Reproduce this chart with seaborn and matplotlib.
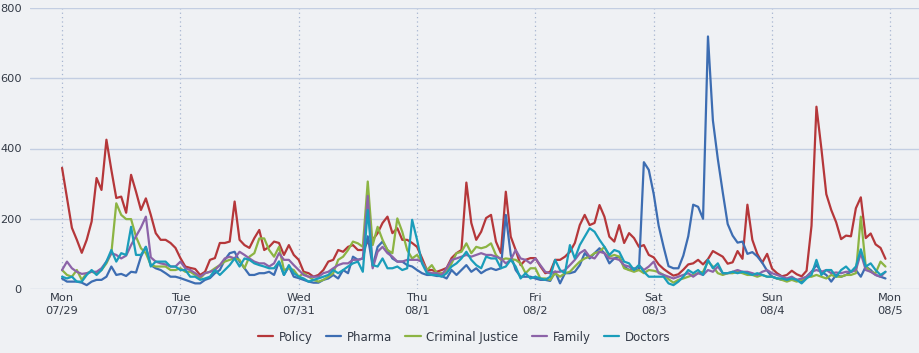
import matplotlib
matplotlib.use("Agg")
import matplotlib.pyplot as plt
import pandas as pd
import seaborn as sns

# 일자 눈금 라벨 (매일 0시)
day_labels = ["Mon\n07/29", "Tue\n07/30", "Wed\n07/31", "Thu\n08/1",
              "Fri\n08/2", "Sat\n08/3", "Sun\n08/4", "Mon\n08/5"]
topics = ["Policy", "Pharma", "Criminal Justice", "Family", "Doctors"]

# 시간별 값 (월 0시 ~ 일 23시, 168개)
policy = [
    345, 260, 174, 140, 103, 140, 192, 316, 282, 425, 339, 259, 263, 217, 325, 277, 225, 258, 211, 159, 140, 140, 131, 117,
    88, 64, 60, 57, 40, 49, 83, 88, 131, 131, 135, 249, 140, 125, 117, 145, 168, 111, 120, 135, 131, 97, 125, 97,
    83, 49, 45, 35, 40, 54, 78, 83, 111, 106, 120, 125, 111, 111, 135, 140, 159, 188, 206, 159, 173, 140, 140, 131,
    120, 88, 54, 54, 49, 54, 60, 88, 102, 111, 303, 188, 140, 163, 202, 211, 135, 102, 277, 149, 111, 68, 83, 88,
    88, 65, 45, 49, 83, 83, 92, 106, 131, 182, 211, 182, 188, 239, 206, 149, 135, 182, 131, 159, 145, 120, 125, 97,
    90, 70, 57, 47, 38, 42, 55, 70, 73, 83, 70, 85, 108, 100, 92, 72, 76, 108, 86, 240, 140, 100, 75, 100,
    58, 45, 36, 40, 52, 42, 36, 52, 180, 519, 400, 270, 225, 190, 142, 152, 150, 230, 261, 145, 158, 127, 117, 86,
]
pharma = [
    30, 21, 21, 21, 18, 11, 21, 26, 26, 35, 64, 40, 43, 37, 49, 47, 92, 120, 68, 59, 54, 45, 35, 35,
    31, 26, 21, 16, 16, 26, 31, 45, 54, 83, 102, 106, 78, 59, 40, 40, 45, 45, 49, 40, 78, 40, 64, 35,
    31, 26, 21, 18, 18, 26, 30, 40, 30, 54, 45, 92, 83, 87, 150, 64, 120, 135, 111, 87, 78, 78, 68, 64,
    54, 45, 40, 40, 37, 37, 30, 54, 40, 54, 68, 49, 59, 45, 54, 59, 54, 59, 211, 97, 54, 35, 35, 35,
    30, 26, 26, 23, 50, 16, 45, 45, 49, 68, 102, 87, 102, 116, 102, 73, 87, 92, 64, 54, 59, 54, 361, 339,
    270, 180, 120, 65, 59, 59, 95, 150, 240, 234, 200, 719, 480, 370, 275, 185, 152, 132, 135, 100, 105, 93, 75, 52,
    35, 30, 26, 26, 30, 26, 21, 35, 49, 68, 49, 40, 21, 40, 35, 40, 49, 54, 35, 64, 54, 40, 35, 30,
]
criminal_justice = [
    54, 40, 35, 54, 26, 45, 49, 45, 54, 73, 102, 244, 211, 199, 199, 149, 116, 102, 68, 64, 64, 64, 54, 54,
    59, 49, 49, 40, 30, 45, 49, 59, 68, 78, 83, 87, 83, 59, 92, 102, 144, 144, 111, 92, 120, 54, 59, 54,
    35, 45, 35, 26, 21, 26, 35, 45, 83, 92, 111, 135, 130, 120, 306, 125, 177, 140, 111, 102, 201, 163, 111, 87,
    97, 78, 54, 68, 45, 45, 49, 73, 102, 106, 130, 102, 120, 116, 120, 130, 97, 83, 87, 85, 83, 73, 45, 59,
    59, 30, 30, 26, 45, 35, 45, 49, 64, 78, 87, 92, 102, 106, 120, 92, 97, 92, 59, 54, 49, 54, 45, 54,
    52, 48, 40, 28, 18, 26, 30, 35, 40, 45, 49, 78, 64, 45, 40, 45, 45, 49, 45, 40, 40, 35, 40, 35,
    35, 30, 26, 21, 26, 21, 26, 35, 35, 40, 35, 30, 40, 35, 35, 40, 40, 45, 206, 64, 49, 45, 78, 64,
]
family = [
    54, 78, 59, 49, 43, 45, 49, 49, 59, 78, 102, 97, 87, 95, 125, 150, 175, 206, 90, 78, 73, 70, 64, 64,
    78, 59, 54, 45, 35, 45, 49, 54, 68, 87, 92, 87, 106, 97, 87, 78, 73, 73, 64, 73, 102, 83, 83, 68,
    54, 40, 35, 35, 35, 45, 49, 59, 68, 73, 73, 83, 83, 87, 265, 59, 106, 120, 102, 92, 78, 78, 83, 83,
    83, 78, 49, 45, 45, 40, 59, 83, 87, 92, 97, 92, 97, 102, 97, 97, 92, 87, 73, 83, 111, 87, 83, 73,
    87, 68, 49, 45, 49, 49, 54, 68, 83, 102, 111, 92, 87, 106, 102, 87, 87, 83, 68, 64, 54, 68, 54, 64,
    78, 45, 40, 35, 30, 35, 40, 45, 35, 45, 40, 54, 49, 64, 45, 45, 49, 54, 49, 49, 45, 40, 49, 54,
    45, 40, 35, 30, 35, 26, 30, 35, 49, 54, 49, 54, 45, 47, 45, 49, 49, 54, 102, 54, 49, 40, 35, 49,
]
doctors = [
    35, 30, 35, 21, 21, 40, 54, 40, 54, 78, 111, 78, 102, 97, 177, 97, 97, 120, 64, 78, 78, 78, 64, 64,
    54, 54, 35, 35, 26, 30, 35, 54, 40, 54, 68, 87, 64, 87, 83, 73, 68, 64, 59, 59, 78, 40, 68, 45,
    35, 30, 21, 26, 30, 35, 40, 54, 45, 54, 64, 73, 78, 49, 225, 68, 64, 87, 59, 59, 64, 54, 59, 197,
    140, 73, 45, 40, 40, 35, 45, 64, 73, 87, 106, 83, 68, 59, 92, 87, 87, 59, 64, 83, 64, 30, 45, 30,
    35, 30, 26, 35, 83, 54, 45, 125, 87, 125, 149, 173, 163, 140, 120, 97, 111, 106, 78, 73, 54, 68, 49, 35,
    35, 35, 35, 16, 11, 21, 35, 54, 45, 54, 40, 83, 59, 73, 45, 45, 49, 45, 49, 45, 40, 45, 40, 35,
    35, 30, 30, 26, 30, 26, 16, 30, 40, 83, 40, 54, 54, 35, 54, 64, 49, 64, 113, 64, 73, 54, 40, 49,
]

colors = ["#b5373a", "#3d6db2", "#8cb443", "#8c63a8", "#1a9dba"]
bg = "#eff1f4"
text_color = "#333a46"

frames = []
for name, vals in zip(topics, [policy, pharma, criminal_justice, family, doctors]):
    frames.append(pd.DataFrame({"hour": range(len(vals)), "value": vals, "topic": name}))
df = pd.concat(frames, ignore_index=True)

sns.set_style("white")
plt.rcParams["font.family"] = ["DejaVu Sans"]

fig = plt.figure(figsize=(9.19, 3.53), dpi=100)
fig.patch.set_facecolor(bg)
ax = fig.add_axes([30 / 919, 1 - 289 / 353, 889 / 919, 281 / 353])
ax.set_facecolor(bg)

sns.lineplot(data=df, x="hour", y="value", hue="topic", hue_order=topics,
             palette=colors, linewidth=1.6, ax=ax)

ax.set_xlim(-6.5, 173.8)
ax.set_ylim(0, 800)
ax.set_xticks(range(0, 169, 24))
ax.set_xticklabels(day_labels, fontsize=8.2, color=text_color, linespacing=1.3)
ax.set_yticks([0, 200, 400, 600, 800])
ax.set_yticklabels(["0", "200", "400", "600", "800"], fontsize=8.2, color=text_color)
ax.tick_params(axis="both", length=0)
ax.tick_params(axis="x", pad=3)
ax.tick_params(axis="y", pad=6)
ax.set_xlabel("")
ax.set_ylabel("")
for s in ax.spines.values():
    s.set_visible(False)

ax.yaxis.grid(True, color="#c3cee2", linewidth=1.0)
ax.xaxis.grid(True, color="#a7b5d0", linewidth=0.9, linestyle=(0, (1, 2.5)))
ax.set_axisbelow(True)

handles, labels = ax.get_legend_handles_labels()
ax.legend(handles, labels, loc="center", bbox_to_anchor=(0.505, 0.045),
          bbox_transform=fig.transFigure, ncol=5, frameon=False,
          fontsize=8.5, handlelength=1.3, handletextpad=0.5, columnspacing=1.1,
          labelcolor=text_color)

fig.savefig("out.png", dpi=100, facecolor=bg)
